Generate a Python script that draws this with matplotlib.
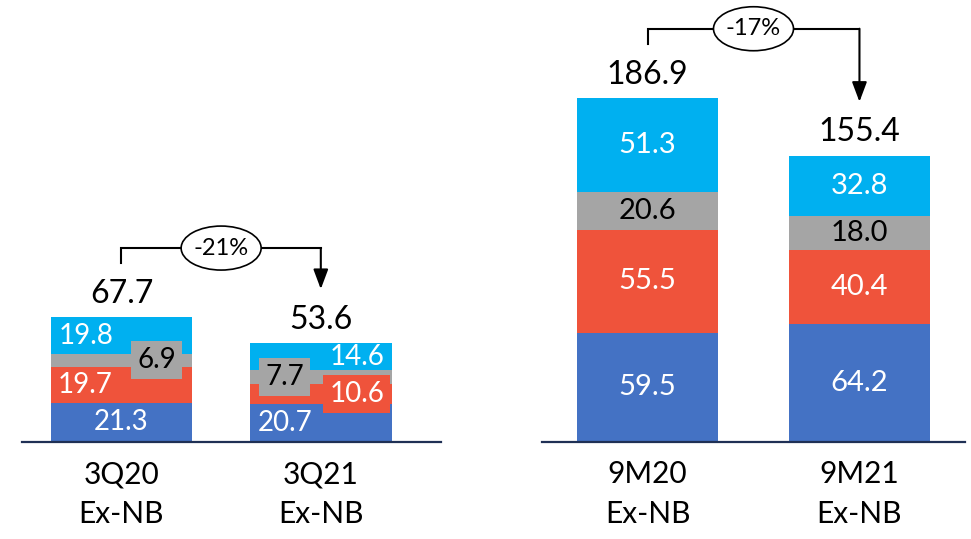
import numpy as np
import matplotlib.pyplot as plt
from matplotlib.patches import Ellipse
from matplotlib.transforms import ScaledTranslation

plt.rcParams['font.family'] = ['Lato', 'DejaVu Sans']

# quarter data (Ex-NB), stacked bottom -> top
q_labels = ['3Q20\nEx-NB', '3Q21\nEx-NB']
q_seg1 = [21.3, 20.7]
q_seg2 = [19.7, 10.6]
q_seg3 = [6.9, 7.7]
q_seg4 = [19.8, 14.6]
q_change = '-21%'

# nine months data (Ex-NB)
m_labels = ['9M20\nEx-NB', '9M21\nEx-NB']
m_seg1 = [59.5, 64.2]
m_seg2 = [55.5, 40.4]
m_seg3 = [20.6, 18.0]
m_seg4 = [51.3, 32.8]
m_change = '-17%'

colors = ['#4472C4', '#EF533B', '#A5A5A5', '#00B0F0']
txt_colors = ['white', 'white', 'black', 'white']

W, H = 971, 539
fig = plt.figure(figsize=(W / 100, H / 100), dpi=100)
base = 442
ytop = base / 1.84


def make_ax(x0, x1, xlim):
    ax = fig.add_axes([x0 / W, (H - base) / H, (x1 - x0) / W, base / H])
    ax.set_xlim(*xlim)
    ax.set_ylim(0, ytop)
    for s in ['left', 'right', 'top']:
        ax.spines[s].set_visible(False)
    ax.spines['bottom'].set_color('#1F3055')
    ax.spines['bottom'].set_linewidth(1.6)
    ax.set_yticks([])
    ax.tick_params(axis='x', length=0, pad=13, labelsize=21.5)
    return ax


def draw_panel(ax, labels, segs, width, seg_fs, tot_fs, xoffs, boxed, change):
    x = np.arange(len(labels))
    bottom = np.zeros(len(labels))
    for k, vals in enumerate(segs):
        vals = np.array(vals)
        ax.bar(x, vals, width, bottom=bottom, color=colors[k], linewidth=0, zorder=2)
        for i, v in enumerate(vals):
            bb = None
            if (i, k) in boxed:
                bb = dict(boxstyle='square,pad=0.22', fc=colors[k], ec='none')
            ax.text(x[i] + xoffs[i][k], bottom[i] + v / 2, f'{v:.1f}', ha='center',
                    va='center', fontsize=seg_fs, color=txt_colors[k], bbox=bb, zorder=4)
        bottom = bottom + vals
    totals = bottom
    for i, t in enumerate(totals):
        ax.annotate(f'{t:.1f}', (x[i], t), xytext=(0, 10.5), textcoords='offset points',
                    ha='center', va='baseline', fontsize=tot_fs)
    # bracket with arrow from first to second total
    start = totals[0] + 29.5
    level = totals[0] + 37.7
    tip = totals[1] + 29.5
    ax.plot([x[0], x[0], x[1]], [start, level, level], color='black', lw=1.5,
            solid_joinstyle='miter', zorder=3)
    ax.annotate('', xy=(x[1], tip), xytext=(x[1], level),
                arrowprops=dict(arrowstyle='-|>,head_length=0.8,head_width=0.3',
                                mutation_scale=15, color='black', lw=1.5,
                                shrinkA=0, shrinkB=0), zorder=3)
    xc = (x[0] + x[1]) / 2
    # fixed-size oval (in inches) centred on the bracket
    tr = fig.dpi_scale_trans + ScaledTranslation(xc, level, ax.transData)
    ax.add_patch(Ellipse((0, 0), 0.8, 0.44, transform=tr, fc='white', ec='black',
                         lw=1.2, zorder=5, clip_on=False))
    ax.text(xc, level, change, ha='center', va='center', fontsize=17, zorder=6)
    ax.set_xticks(x)
    ax.set_xticklabels(labels, linespacing=1.52)


ax1 = make_ax(22, 441, (-0.499, 1.603))
q_offs = [[0, -0.183, 0.176, -0.175], [-0.18, 0.18, -0.18, 0.18]]
draw_panel(ax1, q_labels, [q_seg1, q_seg2, q_seg3, q_seg4], 0.711, 20, 23,
           q_offs, {(0, 2), (1, 2), (1, 1)}, q_change)

ax2 = make_ax(542, 965, (-0.498, 1.498))
m_offs = [[0, 0, 0, 0], [0, 0, 0, 0]]
draw_panel(ax2, m_labels, [m_seg1, m_seg2, m_seg3, m_seg4], 0.665, 21, 23,
           m_offs, set(), m_change)

fig.savefig('out.png', dpi=100)
